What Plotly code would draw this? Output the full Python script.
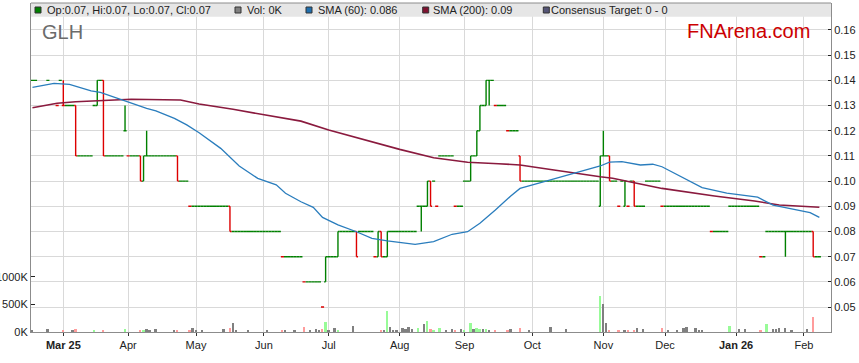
import pandas as pd
import plotly.graph_objects as go

# ---------------- data ----------------
# flat trading days (open = high = low = close) as runs of consecutive weekdays
run_start = ["2025-02-13", "2025-02-24", "2025-02-27", "2025-02-28", "2025-03-04", "2025-03-10",
             "2025-03-17", "2025-03-19", "2025-03-21", "2025-04-01", "2025-04-10", "2025-04-24",
             "2025-04-29", "2025-05-19", "2025-06-10", "2025-06-19", "2025-06-27", "2025-07-01",
             "2025-07-07", "2025-07-15", "2025-07-22", "2025-07-25", "2025-07-29", "2025-08-11",
             "2025-08-13", "2025-08-18", "2025-08-19", "2025-08-20", "2025-08-27", "2025-09-01",
             "2025-09-04", "2025-09-09", "2025-09-12", "2025-09-15", "2025-09-19", "2025-09-26",
             "2025-11-04", "2025-11-06", "2025-11-10", "2025-11-11", "2025-11-13", "2025-11-14",
             "2025-11-18", "2025-11-21", "2025-11-28", "2025-12-22", "2025-12-30", "2026-01-13",
             "2026-01-15", "2026-02-06"]
run_end = ["2025-02-18", "2025-02-24", "2025-02-27", "2025-02-28", "2025-03-06", "2025-03-14",
           "2025-03-17", "2025-03-19", "2025-03-28", "2025-04-04", "2025-04-22", "2025-04-28",
           "2025-05-15", "2025-06-09", "2025-06-18", "2025-06-26", "2025-06-27", "2025-07-03",
           "2025-07-11", "2025-07-21", "2025-07-22", "2025-07-25", "2025-08-08", "2025-08-11",
           "2025-08-13", "2025-08-18", "2025-08-19", "2025-08-26", "2025-08-29", "2025-09-02",
           "2025-09-04", "2025-09-09", "2025-09-12", "2025-09-18", "2025-09-24", "2025-10-30",
           "2025-11-04", "2025-11-07", "2025-11-10", "2025-11-11", "2025-11-13", "2025-11-14",
           "2025-11-20", "2025-11-27", "2025-12-19", "2025-12-29", "2026-01-12", "2026-01-14",
           "2026-02-04", "2026-02-09"]
run_price = [0.14, 0.14, 0.13, 0.14, 0.13, 0.11,
             0.13, 0.14, 0.11, 0.11, 0.11, 0.10,
             0.09, 0.08, 0.07, 0.06, 0.05, 0.07,
             0.08, 0.08, 0.07, 0.07, 0.08, 0.09,
             0.09, 0.10, 0.09, 0.11, 0.09, 0.10,
             0.11, 0.13, 0.14, 0.13, 0.12, 0.10,
             0.11, 0.10, 0.09, 0.10, 0.09, 0.10,
             0.09, 0.10, 0.09, 0.08, 0.09, 0.07,
             0.08, 0.07]

# trading days with an intraday range
bar_date = ["2025-03-03", "2025-03-07", "2025-03-18", "2025-03-20", "2025-03-31", "2025-04-07",
            "2025-04-08", "2025-04-09", "2025-04-23", "2025-05-16", "2025-06-30", "2025-07-04",
            "2025-07-14", "2025-07-23", "2025-07-24", "2025-07-28", "2025-08-12", "2025-08-14",
            "2025-08-15", "2025-09-03", "2025-09-05", "2025-09-08", "2025-09-10", "2025-09-11",
            "2025-09-25", "2025-10-31", "2025-11-03", "2025-11-05", "2025-11-12", "2025-11-17",
            "2026-01-23", "2026-02-05"]
bar_open = [0.13, 0.13, 0.13, 0.14, 0.12, 0.11, 0.10, 0.11, 0.11, 0.09, 0.06, 0.07,
            0.08, 0.07, 0.08, 0.07, 0.09, 0.09, 0.10, 0.10, 0.11, 0.12, 0.13, 0.14,
            0.11, 0.09, 0.11, 0.11, 0.09, 0.10, 0.08, 0.08]
bar_high = [0.14, 0.13, 0.14, 0.14, 0.13, 0.11, 0.11, 0.12, 0.11, 0.09, 0.07, 0.08,
            0.08, 0.08, 0.08, 0.08, 0.09, 0.10, 0.10, 0.11, 0.12, 0.13, 0.14, 0.14,
            0.11, 0.11, 0.12, 0.11, 0.10, 0.10, 0.08, 0.08]
bar_low = [0.13, 0.11, 0.13, 0.11, 0.12, 0.10, 0.10, 0.11, 0.10, 0.08, 0.06, 0.07,
           0.07, 0.07, 0.07, 0.07, 0.08, 0.09, 0.09, 0.10, 0.11, 0.12, 0.13, 0.13,
           0.10, 0.09, 0.11, 0.10, 0.09, 0.09, 0.07, 0.07]
bar_close = [0.13, 0.11, 0.14, 0.11, 0.12, 0.10, 0.11, 0.11, 0.10, 0.08, 0.07, 0.08,
             0.07, 0.08, 0.07, 0.08, 0.09, 0.10, 0.09, 0.11, 0.12, 0.13, 0.14, 0.14,
             0.10, 0.11, 0.11, 0.10, 0.10, 0.09, 0.08, 0.07]

# volume (thousands of shares)
vol_date = ["2025-02-17", "2025-02-24", "2025-03-03", "2025-03-06", "2025-03-07", "2025-03-17",
            "2025-03-20", "2025-03-31", "2025-04-07", "2025-04-08", "2025-04-09", "2025-04-10",
            "2025-04-14", "2025-04-22", "2025-04-23", "2025-04-29", "2025-04-30", "2025-05-01",
            "2025-05-05", "2025-05-14", "2025-05-16", "2025-05-19", "2025-05-20", "2025-05-26",
            "2025-06-03", "2025-06-10", "2025-06-11", "2025-06-16", "2025-06-19", "2025-06-23",
            "2025-06-25", "2025-06-26", "2025-06-27", "2025-06-30", "2025-07-01", "2025-07-03",
            "2025-07-04", "2025-07-11", "2025-07-24", "2025-07-25", "2025-07-28", "2025-07-29",
            "2025-07-30", "2025-07-31", "2025-08-04", "2025-08-05", "2025-08-06", "2025-08-07",
            "2025-08-11", "2025-08-13", "2025-08-14", "2025-08-15", "2025-08-18", "2025-08-20",
            "2025-08-22", "2025-08-26", "2025-08-27", "2025-08-29", "2025-09-01", "2025-09-03",
            "2025-09-04", "2025-09-05", "2025-09-08", "2025-09-09", "2025-09-10", "2025-09-11",
            "2025-09-15", "2025-09-19", "2025-09-22", "2025-09-25", "2025-09-30", "2025-10-09",
            "2025-10-16", "2025-10-31", "2025-11-03", "2025-11-04", "2025-11-05", "2025-11-10",
            "2025-11-12", "2025-11-13", "2025-11-17", "2025-11-18", "2025-11-20", "2025-11-28",
            "2025-12-02", "2025-12-05", "2025-12-09", "2025-12-10", "2025-12-15", "2025-12-16",
            "2025-12-17", "2025-12-30", "2026-01-02", "2026-01-06", "2026-01-13", "2026-01-15",
            "2026-01-19", "2026-01-20", "2026-01-21", "2026-01-23", "2026-01-27", "2026-02-03",
            "2026-02-05"]
vol_k = [25, 60, 25, 25, 60, 25,
         45, 60, 25, 25, 50, 25,
         60, 45, 45, 45, 65, 25,
         45, 60, 70, 155, 45, 25,
         45, 25, 45, 25, 95, 25,
         60, 25, 60, 185, 45, 80,
         45, 115, 45, 45, 385, 95,
         45, 25, 80, 60, 95, 60,
         80, 140, 205, 60, 25, 80,
         30, 60, 25, 60, 45, 155,
         50, 80, 60, 60, 50, 25,
         25, 45, 60, 80, 25, 95,
         60, 645, 500, 155, 25, 25,
         25, 45, 25, 80, 60, 80,
         25, 25, 80, 95, 80, 25,
         25, 115, 60, 60, 25, 150,
         60, 60, 80, 80, 45, 60,
         275]

# moving averages
sma60_date = ["2025-02-17", "2025-02-21", "2025-02-26", "2025-03-05", "2025-03-14", "2025-03-19",
              "2025-03-28", "2025-04-09", "2025-04-14", "2025-04-22", "2025-04-28", "2025-05-02",
              "2025-05-13", "2025-05-21", "2025-05-29", "2025-06-06", "2025-06-11", "2025-06-18",
              "2025-06-24", "2025-06-27", "2025-07-04", "2025-07-14", "2025-07-21", "2025-07-28",
              "2025-08-08", "2025-08-18", "2025-08-26", "2025-09-02", "2025-09-08", "2025-09-15",
              "2025-09-22", "2025-09-25", "2025-10-08", "2025-10-21", "2025-10-31", "2025-11-05",
              "2025-11-11", "2025-11-19", "2025-11-25", "2025-11-28", "2025-12-09", "2025-12-17",
              "2025-12-29", "2026-01-12", "2026-01-19", "2026-01-28", "2026-02-04", "2026-02-09"]
sma60_val = [0.1372, 0.1381, 0.1388, 0.1384, 0.1358, 0.1352,
             0.1322, 0.1289, 0.1279, 0.1249, 0.1223, 0.1192,
             0.1130, 0.1060, 0.1011, 0.0985, 0.0952, 0.0918,
             0.0896, 0.0856, 0.0826, 0.0799, 0.0773, 0.0763,
             0.0749, 0.0760, 0.0789, 0.0799, 0.0833, 0.0885,
             0.0941, 0.0971, 0.1002, 0.1033, 0.1060, 0.1075,
             0.1077, 0.1064, 0.1067, 0.1057, 0.1011, 0.0974,
             0.0952, 0.0936, 0.0905, 0.0888, 0.0875, 0.0856]
sma200_date = ["2025-02-17", "2025-02-27", "2025-03-07", "2025-03-19", "2025-04-02", "2025-04-24",
               "2025-05-02", "2025-05-19", "2025-06-03", "2025-06-18", "2025-07-01", "2025-07-17",
               "2025-08-01", "2025-08-18", "2025-09-02", "2025-09-16", "2025-09-25", "2025-10-10",
               "2025-10-22", "2025-10-31", "2025-11-06", "2025-11-28", "2025-12-23", "2026-01-09",
               "2026-01-21", "2026-02-09"]
sma200_val = [0.1291, 0.1309, 0.1315, 0.1319, 0.1325, 0.1322,
              0.1306, 0.1285, 0.1262, 0.1238, 0.1203, 0.1163,
              0.1126, 0.1093, 0.1075, 0.1069, 0.1064, 0.1044,
              0.1028, 0.1017, 0.1011, 0.0971, 0.0941, 0.0921,
              0.0905, 0.0896]

tick_dates = ["2025-03-03", "2025-04-01", "2025-05-01", "2025-06-02", "2025-07-01", "2025-08-01",
              "2025-09-01", "2025-10-01", "2025-11-03", "2025-12-01", "2026-01-01", "2026-02-02"]
tick_text = ["<b>Mar 25</b>", "Apr", "May", "Jun", "Jul", "Aug", "Sep", "Oct", "Nov", "Dec",
             "<b>Jan 26</b>", "Feb"]
price_ticks = [0.04, 0.05, 0.06, 0.07, 0.08, 0.09, 0.10, 0.11, 0.12, 0.13, 0.14, 0.15, 0.16]
vol_ticks = [0, 500000, 1000000]
vol_tick_text = ["0K", "500K", "1000K"]

# ---------------- styles / layout helpers ----------------
FONT = "Arial, 'Liberation Sans', Helvetica, sans-serif"
GREEN, RED = "#008000", "#dd0000"
VOL_UP, VOL_DN, VOL_FLAT = "#98fb98", "#ff9c9c", "#808080"
BLUE, MAROON = "#2a7dbd", "#8a1a3e"
W, H = 859, 363
L, R, T, B = 31, 28, 3, 31
PW, PH = W - L - R, H - T - B
NOON = pd.Timedelta(hours=12)


def px(x):
    return (x - L) / PW


def py(y):
    return (H - B - y) / PH


# ---------------- build daily OHLC ----------------
daily = {}
for s, e, p in zip(run_start, run_end, run_price):
    for d in pd.bdate_range(s, e):
        daily[d] = (p, p, p, p)
for d, o, h, l, c in zip(bar_date, bar_open, bar_high, bar_low, bar_close):
    daily[pd.Timestamp(d)] = (o, h, l, c)
days = sorted(daily)

xs = [d + NOON for d in days]
up = {"o": [], "h": [], "l": [], "c": []}
dn = {"o": [], "h": [], "l": [], "c": []}
prev_close = {}
prev = None
for d in days:
    o, h, l, c = daily[d]
    prev_close[d] = prev
    is_down = (c < o) or (c == o and prev is not None and c < prev)
    tgt, other = (dn, up) if is_down else (up, dn)
    for k, v in zip("ohlc", (o, h, l, c)):
        tgt[k].append(v)
        other[k].append(None)
    prev = c

vx, vy, vc = [], [], []
for d, v in zip(vol_date, vol_k):
    t = pd.Timestamp(d)
    c = daily[t][3]
    p = prev_close.get(t)
    if p is None or c == p:
        col = VOL_FLAT
    elif c > p:
        col = VOL_UP
    else:
        col = VOL_DN
    vx.append(t + NOON)
    vy.append(v * 1000)
    vc.append(col)

fig = go.Figure()
fig.add_trace(go.Bar(x=vx, y=vy, marker=dict(color=vc, line=dict(width=0)),
                     width=0.62 * 86400000, yaxis="y", hoverinfo="skip"))
fig.add_trace(go.Ohlc(x=xs, open=up["o"], high=up["h"], low=up["l"], close=up["c"],
                      increasing=dict(line=dict(color=GREEN, width=1.4)),
                      decreasing=dict(line=dict(color=GREEN, width=1.4)),
                      tickwidth=0.5, yaxis="y2", hoverinfo="skip"))
fig.add_trace(go.Ohlc(x=xs, open=dn["o"], high=dn["h"], low=dn["l"], close=dn["c"],
                      increasing=dict(line=dict(color=RED, width=1.4)),
                      decreasing=dict(line=dict(color=RED, width=1.4)),
                      tickwidth=0.5, yaxis="y2", hoverinfo="skip"))
fig.add_trace(go.Scatter(x=[pd.Timestamp(d) + NOON for d in sma200_date], y=sma200_val,
                         mode="lines", line=dict(color=MAROON, width=1.6), yaxis="y2",
                         hoverinfo="skip"))
fig.add_trace(go.Scatter(x=[pd.Timestamp(d) + NOON for d in sma60_date], y=sma60_val,
                         mode="lines", line=dict(color=BLUE, width=1.3), yaxis="y2",
                         hoverinfo="skip"))

tick_font = dict(family=FONT, size=11, color="#222")
fig.update_layout(
    width=W, height=H,
    margin=dict(l=L, r=R, t=T, b=B, autoexpand=False),
    paper_bgcolor="white", plot_bgcolor="white",
    showlegend=False, bargap=0,
    xaxis=dict(type="date", range=["2025-02-17 00:40", "2026-02-13 06:30"],
               rangebreaks=[dict(bounds=["sat", "mon"])], automargin=False,
               tickmode="array", tickvals=[pd.Timestamp(d) + NOON for d in tick_dates],
               ticktext=tick_text, tickfont=tick_font,
               showgrid=True, gridcolor="#d9d9d9", gridwidth=1,
               showline=True, linecolor="#8c8c8c", linewidth=1,
               ticks="outside", ticklen=3, tickcolor="#333",
               zeroline=False, rangeslider=dict(visible=False)),
    yaxis=dict(side="left", range=[0, 5.96e6], tickmode="array", tickvals=vol_ticks,
               ticktext=vol_tick_text, tickfont=tick_font, showgrid=False, automargin=False,
               showline=True, linecolor="#8c8c8c", linewidth=1,
               ticks="inside", ticklen=4, tickcolor="#222", zeroline=False),
    yaxis2=dict(side="right", overlaying="y", range=[0.0401, 0.1707], tickmode="array",
                tickvals=price_ticks, ticktext=["%.2f" % v for v in price_ticks],
                tickfont=tick_font, showgrid=True, gridcolor="#d9d9d9", gridwidth=1,
                automargin=False, showline=True, linecolor="#8c8c8c", linewidth=1,
                ticks="inside", ticklen=3, tickcolor="#222", zeroline=False),
)

# legend band across the top of the plot
shapes = [
    dict(type="rect", xref="paper", yref="paper", x0=0, x1=1, y0=py(16.8), y1=1,
         fillcolor="#e6e6e6", line=dict(width=0), layer="above"),
    dict(type="line", xref="paper", yref="paper", x0=0, x1=1, y0=1, y1=1,
         line=dict(color="#8c8c8c", width=1), layer="above"),
]
legend_items = [
    (35, GREEN, "Op:0.07, Hi:0.07, Lo:0.07, Cl:0.07", 46.7),
    (235, "#808080", "Vol: 0K", 246.7),
    (306, "#1f6fae", "SMA (60): 0.086", 317.7),
    (422.7, "#7f1230", "SMA (200): 0.09", 433.3),
    (543.3, "#555577", "Consensus Target: 0 - 0", 550.7),
]
annotations = []
for sx, col, txt, tx in legend_items:
    shapes.append(dict(type="rect", xref="paper", yref="paper", x0=px(sx), x1=px(sx + 6),
                       y0=py(13), y1=py(7), fillcolor=col, line=dict(color="#333", width=1),
                       layer="above"))
    annotations.append(dict(xref="paper", yref="paper", x=px(tx - 2), y=py(10), text=txt,
                            showarrow=False, xanchor="left", yanchor="middle",
                            font=dict(family=FONT, size=11, color="#222")))
annotations.append(dict(xref="paper", yref="paper", x=px(40), y=py(32), text="GLH",
                        showarrow=False, xanchor="left", yanchor="middle",
                        font=dict(family=FONT, size=20, color="#6b6b6b")))
annotations.append(dict(xref="paper", yref="paper", x=px(684.7), y=py(31), text="FNArena.com",
                        showarrow=False, xanchor="left", yanchor="middle",
                        font=dict(family=FONT, size=20, color="#cc0000")))
fig.update_layout(shapes=shapes, annotations=annotations)

fig.write_html("out.html", config={"displayModeBar": False},
               post_script="document.body.style.margin='0';document.body.style.padding='0';")
